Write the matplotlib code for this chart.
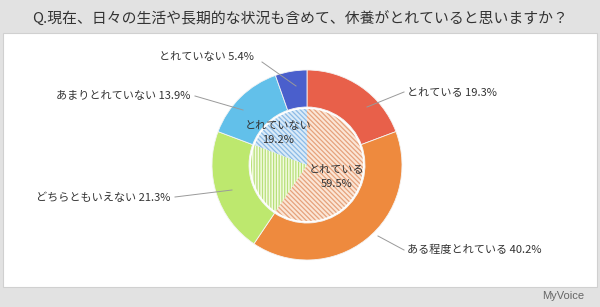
import matplotlib.pyplot as plt
from matplotlib.patches import Rectangle

plt.rcParams['font.family'] = ['Noto Sans CJK JP', 'DejaVu Sans']
plt.rcParams['hatch.linewidth'] = 0.9

title = 'Q.現在、日々の生活や長期的な状況も含めて、休養がとれていると思いますか？'

outer_labels = ['とれている', 'ある程度とれている', 'どちらともいえない', 'あまりとれていない', 'とれていない']
outer_values = [19.3, 40.2, 21.3, 13.9, 5.4]
outer_colors = ['#e8604a', '#ee8a3e', '#bde86e', '#62c0ea', '#4a5fcc']

inner_labels = ['とれている', 'どちらともいえない', 'とれていない']
inner_values = [59.5, 21.3, 19.2]
inner_faces = ['#fbe6d6', '#f3fbe0', '#dbebf8']
inner_hatch_colors = ['#e6a27c', '#b8e07a', '#8cbbe6']
inner_hatches = ['\\' * 7, '|' * 6, '\\' * 7]

fig = plt.figure(figsize=(6, 3.07), dpi=100)
fig.patch.set_facecolor('#e2e2e2')
ax = fig.add_axes([0, 0, 1, 1])

# white panel
ax.add_patch(Rectangle((3, 20), 594, 254, facecolor='white', edgecolor='#d0d0d0', lw=0.8))

fig.text(0.5, 1 - 19 / 307, title, ha='center', va='center', fontsize=10.7, color='#333333')
fig.text(563 / 600, 1 - 296 / 307, 'MyVoice', ha='center', va='center', fontsize=8, color='#666666',
         family=['Liberation Sans', 'DejaVu Sans'])

cx, cy = 307, 142
wedges, _ = ax.pie(outer_values, radius=95, center=(cx, cy), startangle=90, counterclock=False,
                   colors=outer_colors, wedgeprops=dict(width=37, edgecolor='#f4f4f4', linewidth=0.6),
                   frame=True)
inner, _ = ax.pie(inner_values, radius=56, center=(cx, cy), startangle=90, counterclock=False,
                  colors=inner_faces, wedgeprops=dict(linewidth=0), frame=True)
for w, h, c in zip(inner, inner_hatches, inner_hatch_colors):
    w.set_hatch(h)
    w.set_edgecolor(c)
    w.set_linewidth(0)

ax.set_xlim(0, 600)
ax.set_ylim(0, 307)
ax.set_aspect('equal')
ax.axis('off')

tc = '#333333'
fs = 8
# outer labels with leader lines (pixel coords, y from top)
ann = [
    ('とれている 19.3%', (367, 107), (404, 92), (407, 92), 'left'),
    ('ある程度とれている 40.2%', (378, 236), (404, 250), (407, 250), 'left'),
    ('どちらともいえない 21.3%', (232, 190), (175, 197), (170, 198), 'right'),
    ('あまりとれていない 13.9%', (243, 110), (195, 96), (190, 96), 'right'),
    ('とれていない 5.4%', (296, 86), (262, 62), (254, 57), 'right'),
]
for text, p0, p1, pt, ha in ann:
    ax.plot([p0[0], p1[0]], [307 - p0[1], 307 - p1[1]], color='#9a9a9a', lw=0.7)
    ax.text(pt[0], 307 - pt[1], text, ha=ha, va='center', fontsize=fs, color=tc)

ax.text(278, 307 - 133, 'とれていない\n19.2%', ha='center', va='center', fontsize=fs, color=tc,
        linespacing=1.6)
ax.text(337, 307 - 177, 'とれている\n59.5%', ha='center', va='center', fontsize=fs, color=tc,
        linespacing=1.6)

fig.savefig('out.png', dpi=100, facecolor=fig.get_facecolor())
